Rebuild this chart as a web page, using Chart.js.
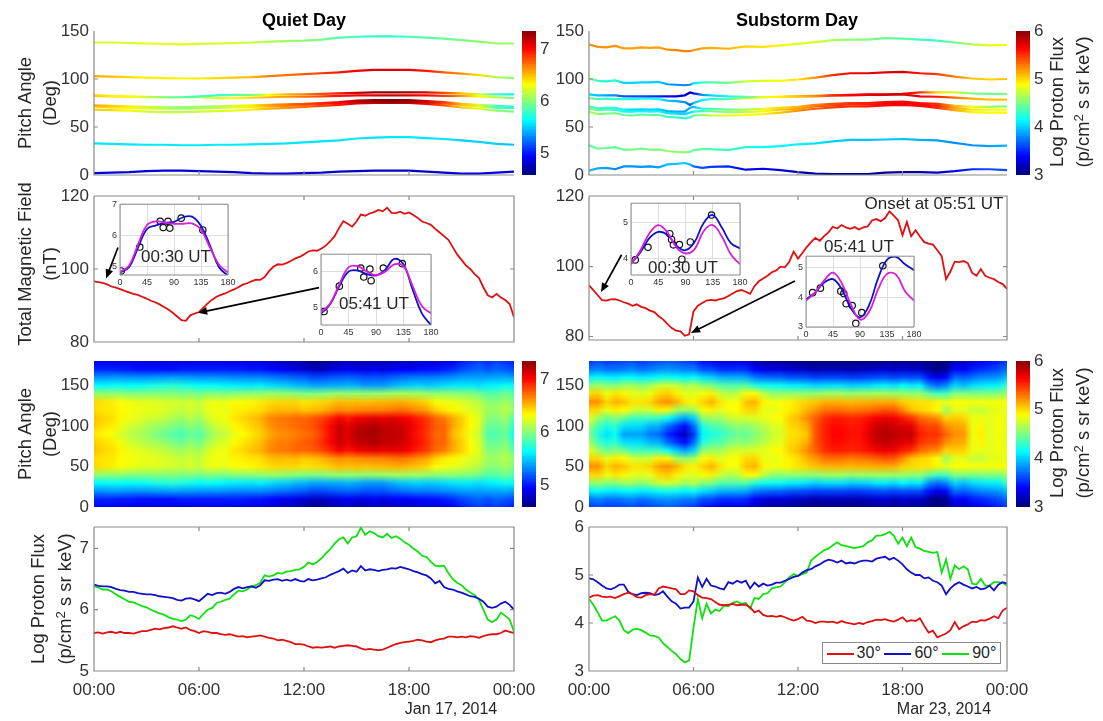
<!DOCTYPE html>
<html>
<head>
<meta charset="utf-8">
<script src="https://cdn.jsdelivr.net/npm/chart.js@4/dist/chart.umd.min.js"></script>
<style>
  html, body { margin: 0; padding: 0; background: #fff; }
  body { position: relative; width: 1103px; height: 721px; overflow: hidden; font-family: "Liberation Sans", Arial, sans-serif; color: #262626; }
  canvas { position: absolute; }
  .txt { position: absolute; white-space: nowrap; transform: translate(-50%, -50%); }
  .v { transform: translate(-50%, -50%) rotate(-90deg); }
  .txt sup { font-size: 0.72em; line-height: 0; vertical-align: baseline; position: relative; top: -0.42em; }
  #legend { position: absolute; left: 822px; top: 642px; width: 179px; height: 22px; box-sizing: border-box; border: 1px solid #8a8a8a; background: #fff; display: flex; align-items: center; justify-content: space-evenly; font-size: 16px; }
  #legend span.k { display: inline-block; width: 27px; height: 2px; margin-right: 3px; vertical-align: middle; }
</style>
</head>
<body>
<script>
// ДАНІ: підписи осей
const hourTicks = [0, 6, 12, 18, 24];
const hourLabels = ['00:00', '06:00', '12:00', '18:00', '00:00'];
const pitchTicks = [0, 50, 100, 150];
const fieldTicks = [80, 100, 120];
const quietFluxTicks = [5, 6, 7];
const stormFluxTicks = [3, 4, 5, 6];
const insetAngleTicks = [0, 45, 90, 135, 180];
const seriesNames = ['30°', '60°', '90°'];

// Верхня панель, Quiet Day: 9 ліній по годинах
const quietHours = [0,1,2,3,4,5,6,7,8,9,10,11,12,13,14,15,16,17,18,19,20,21,22,23,24];
const quietPitch = [
  [138,138,137.5,137,136.5,136,136.5,137,137.5,138,139,139.5,140,141,143,144,144.5,144.5,144,143,142,140.5,139,137,137],
  [103,102.5,102,101.5,101,100.5,100.5,101,101.5,102,103,104,105,106,107,108.5,109.5,109.5,109.5,108.5,107,105.5,104,102,101],
  [83,82.5,82,81.5,81,81,82,83,83.5,83.5,83.5,84,84,84.5,85,85.5,86,86,86,86,85.5,85,84,84,84],
  [82.5,82,81.5,81,81,81,81,80,80,80.5,81,81.5,81.5,82,82.5,83,83,83,83,83,82.5,82.5,82,81,80],
  [72.5,72,71.5,71,70.5,70.5,71,71.5,72,72.5,73,73.5,74,75,76,77.5,78,78,78,77,76,74,73,72,71],
  [71.5,70.5,70,69.5,69,69,69.5,70,70.5,71,71.5,72,73,74,75,76,76.5,76.5,76.5,75.5,74.5,73,71.5,70,70],
  [68,67.5,67,66,65.5,65.5,66,66.5,67,68,69,70,71,72,73,74.5,75,75,75,74,72.5,70.5,69,67,66],
  [33,32.5,32,31.5,31.5,31,31,31.5,31.5,32,32.5,33,34,35,36,38,39,39.5,39.5,38.5,37.5,36,34.5,32.5,31.5],
  [2,2.5,3,4,4.5,4.5,4,3.5,3,2,1.5,1.5,2,2.5,3.5,4,4.5,4.5,4.5,3.5,2.5,1.5,1.5,2.5,3.5]
];
const quietPitchFlux = [
  [6.2,6.2,6.2,6.25,6.25,6.25,6.2,6.2,6.2,6.15,6.1,6.05,6,5.95,5.85,5.8,5.75,5.75,5.8,5.85,5.9,5.95,6,6.05,6.05],
  [6.55,6.5,6.4,6.35,6.35,6.35,6.35,6.4,6.45,6.5,6.65,6.7,6.75,6.85,6.95,7.05,7.1,7.1,7.05,6.95,6.75,6.6,6.4,6.1,6],
  [6.45,6.35,6.3,6.15,5.95,5.85,5.8,5.75,5.85,5.95,6.3,6.5,6.65,6.8,6.95,7.15,7.3,7.3,7.25,7.1,6.8,6.5,6.2,5.8,5.65],
  [6.5,6.45,6.4,6.35,6.3,6.25,6.2,6.25,6.3,6.4,6.5,6.6,6.7,6.8,6.95,7.05,7.1,7.15,7.1,7,6.85,6.6,6.3,6.1,5.95],
  [6.55,6.45,6.35,6.2,6.1,6,6.05,6.1,6.2,6.35,6.55,6.7,6.8,6.9,7,7.2,7.3,7.35,7.3,7.15,6.85,6.5,6.2,5.8,5.7],
  [6.5,6.4,6.3,6.2,6.15,6.05,6.1,6.15,6.25,6.35,6.55,6.65,6.75,6.9,7,7.15,7.25,7.3,7.25,7.1,6.8,6.5,6.25,5.85,5.75],
  [6.45,6.4,6.3,6.2,6.15,6.15,6.15,6.2,6.25,6.35,6.5,6.6,6.7,6.8,6.95,7.1,7.15,7.2,7.15,7,6.75,6.45,6.25,6,5.95],
  [5.55,5.55,5.55,5.56,5.56,5.57,5.57,5.57,5.56,5.56,5.55,5.55,5.55,5.55,5.55,5.55,5.55,5.56,5.56,5.55,5.55,5.5,5.5,5.5,5.45],
  [4.85,4.85,4.85,4.82,4.82,4.8,4.8,4.82,4.82,4.85,4.85,4.85,4.82,4.8,4.78,4.78,4.78,4.78,4.78,4.8,4.82,4.85,4.88,4.88,4.85]
];

// Верхня панель, Substorm Day
const stormHours = [0,0.5,1,1.5,2,2.5,3,3.5,4,4.5,5,5.5,5.8,6,6.5,7,8,9,10,11,12,13,14,15,16,17,18,19,20,21,22,23,24];
const stormPitch = [
  [136,133.5,133,134.5,132,132,133,132.5,133,130.5,130,129,129,130,132,132.5,131.5,134,133.5,135,136.5,138.5,140.5,141,141,142.5,142,141,140,138,136,135,135.5],
  [100.5,98,97.5,98.5,96,96,96.5,96.5,97,94.5,94,93.5,94,95.5,96.5,96.5,96,97.5,98,98,99.5,101.5,104,106,106,107,107.5,106,105,102.5,100.5,99.5,100],
  [84,83,83,83,82,82,82,82,82,82,82,83,86,85,83.5,83,82,81.5,81,81.5,82,82,83,83.5,84,84,84.5,86,86,86,85,84.5,84.5],
  [80,79,79.5,79,79,79,79.5,79.5,79,77.5,77,76,73,75,78,79,79,80,81,81.5,82,82.5,83,83,83.5,83.5,84,82,81.5,80.5,79.5,78.5,78.5],
  [71.5,69.5,70,70,68,68,68.5,68,68.5,66.5,66,66,70,71,69,69,68,68,69,70,71,73,74,75,75,76,76.5,75,74,72,71,71,71.5],
  [69,67.5,68,68,66,66,66.5,66,66.5,64.5,64,63.5,65,66,66.5,66.5,65.5,65.5,66.5,68,69,71.5,72.5,73.5,73.5,74,75,73.5,72,70,68,68,68],
  [66,63.5,64,64.5,62.5,62,63,62.5,62.5,60.5,60,59,60,62,62.5,62,62,62.5,63.5,65,67,69,70.5,71.5,71.5,72.5,73,72,70,67.5,65.5,65,65],
  [31,27.5,28,29,26.5,26.5,27.5,26.5,26.5,25,24,23.5,24,26,27,27,26,29,29,30,32,33,35,36.5,36.5,37,37.5,36.5,36,33.5,31,30,30.5],
  [4.5,7,7.5,6,9,9,8.5,9,8,11,11.5,12.5,11,9,7.5,8.5,9,5.5,6.5,5,3,1.5,1,1,1,2.5,3,3,2.5,4,6,6,5]
];
const stormPitchFlux = [
  [5.2,5.2,5.2,5.2,5.15,5.15,5.15,5.15,5.15,5.2,5.25,5.25,5.25,5.2,5.15,5.1,5.1,5,4.95,4.9,4.8,4.75,4.65,4.55,4.5,4.45,4.4,4.3,4.3,4.45,4.65,4.8,4.85],
  [4.55,4.3,4.2,4.25,4,4,4,4,4,3.85,3.8,3.75,3.8,4.05,4.25,4.35,4.45,4.7,4.8,4.85,4.95,5.2,5.5,5.65,5.7,5.7,5.75,5.6,5.45,5.25,5.05,5,5.05],
  [4,3.95,3.85,3.75,3.65,3.6,3.6,3.55,3.5,3.4,3.3,3.25,3.15,3.3,3.8,4,4.15,4.4,4.8,4.9,5.05,5.2,5.5,5.65,5.7,5.75,5.75,5.5,5,4.75,4.5,4.45,4.5],
  [4.45,4.35,4.3,4.25,4.25,4.2,4.2,4.2,4.15,3.95,3.9,3.8,3.6,3.9,4.1,4.25,4.4,4.7,4.85,5,5.2,5.3,5.5,5.6,5.65,5.7,5.7,5.7,5.55,5.3,5.1,5.05,5.05],
  [4.35,4.3,4.25,4.2,4.1,4,4,4,4,3.9,3.9,3.85,3.9,3.95,4.15,4.3,4.45,4.6,4.8,5,5.1,5.25,5.4,5.5,5.55,5.6,5.65,5.6,5.5,5.1,4.85,4.6,4.5],
  [4.5,4.4,4.35,4.3,4.2,4.15,4.15,4.15,4.15,4.05,4.05,4,4.05,4.2,4.35,4.5,4.6,4.7,4.85,5.05,5.15,5.3,5.45,5.5,5.55,5.65,5.7,5.65,5.55,5.15,4.95,4.85,4.85],
  [4.65,4.55,4.5,4.5,4.4,4.4,4.4,4.4,4.4,4.3,4.3,4.2,4.25,4.4,4.55,4.7,4.8,4.85,4.9,5.05,5.2,5.35,5.45,5.5,5.55,5.6,5.65,5.6,5.5,5.15,4.9,4.9,4.9],
  [4.35,4.45,4.45,4.4,4.45,4.5,4.45,4.5,4.5,4.55,4.55,4.55,4.5,4.4,4.4,4.35,4.3,4.2,4.15,4.1,4.1,4.05,4,3.95,3.95,3.95,3.95,3.9,3.85,3.8,3.8,3.85,3.9],
  [3.95,3.85,3.85,3.75,3.8,3.8,3.8,3.8,3.85,3.95,3.95,4,3.9,3.7,3.6,3.55,3.5,3.35,3.3,3.3,3.15,3.1,3.05,3.05,3.05,3.05,3.1,3.15,3.25,3.35,3.5,3.6,3.6]
];

// Магнітне поле, кожні 15 хв
const quietField = [
  96.6,96.4,96.2,95.8, 95.2,94.9,94.5,94.0, 93.6,93.2,92.9,92.4, 91.9,91.3,90.9,90.3,
  89.6,88.9,88.0,87.0, 86.0,85.8,87.3,87.8, 88.2,89.4,90.6,91.6, 92.4,92.9,93.3,93.9,
  94.4,95.0,95.7,96.1, 96.6,97.1,97.0,97.8, 99.4,100.6,101.3,101.2, 101.6,102.2,102.9,103.3,
  104.0,104.8,105.1,105.0, 105.6,106.4,107.6,109.0, 111.2,113.1,112.4,111.6, 113.0,114.9,114.6,115.2,
  115.6,116.2,115.8,116.8, 115.4,115.3,115.7,115.1, 115.5,114.8,114.0,113.0, 112.6,112.1,111.0,110.0,
  109.0,108.0,106.0,104.0, 102.5,101.0,100.0,98.6, 97.5,95.0,92.8,92.2, 93.2,92.2,91.5,90.4, 86.8
];
const stormField = [
  94.6,93.3,91.8,90.4, 90.3,90.6,90.7,90.3, 89.8,89.4,88.8,89.2, 88.5,88.1,87.4,87.0,
  85.8,84.9,83.6,82.4, 81.7,81.5,80.2,80.6, 87.2,88.8,89.6,90.3, 90.5,90.3,90.7,90.9,
  91.6,92.3,93.0,93.3, 92.8,92.2,94.4,95.8, 96.6,97.4,98.4,98.9, 100.0,99.8,101.4,104.3,
  102.3,103.9,105.6,107.0, 108.2,107.4,108.7,109.8, 111.4,110.9,111.9,111.2, 110.8,111.3,110.6,111.2,
  111.5,113.2,113.6,113.0, 113.9,115.8,114.6,113.2, 109.0,112.8,108.7,110.4, 108.6,107.0,106.6,106.3,
  104.7,103.0,96.4,98.6, 101.4,101.3,101.6,101.0, 98.2,97.4,99.3,97.4, 96.8,96.4,95.6,95.0, 93.6
];

// Нижня панель, кожні 15 хв
const quietFlux30 = [
  5.62,5.63,5.61,5.63, 5.64,5.62,5.64,5.62, 5.62,5.61,5.63,5.65, 5.65,5.67,5.69,5.68,
  5.70,5.71,5.73,5.71, 5.69,5.71,5.67,5.65, 5.62,5.65,5.64,5.62, 5.62,5.60,5.59,5.60,
  5.58,5.56,5.57,5.55, 5.56,5.57,5.58,5.56, 5.54,5.53,5.50,5.51, 5.49,5.47,5.44,5.44,
  5.43,5.40,5.38,5.39, 5.38,5.39,5.40,5.38, 5.40,5.41,5.42,5.41, 5.40,5.37,5.35,5.36,
  5.35,5.34,5.35,5.38, 5.41,5.44,5.46,5.47, 5.48,5.49,5.51,5.50, 5.48,5.47,5.50,5.52,
  5.53,5.56,5.56,5.55, 5.56,5.55,5.57,5.56, 5.54,5.57,5.59,5.60, 5.60,5.62,5.66,5.64, 5.62
];
const quietFlux60 = [
  6.41,6.39,6.38,6.38, 6.37,6.34,6.32,6.31, 6.29,6.29,6.27,6.26, 6.25,6.25,6.24,6.22,
  6.21,6.20,6.19,6.16, 6.15,6.18,6.19,6.17, 6.14,6.20,6.26,6.24, 6.27,6.28,6.26,6.29,
  6.34,6.37,6.35,6.37, 6.38,6.36,6.40,6.48, 6.47,6.49,6.50,6.47, 6.49,6.47,6.50,6.47,
  6.46,6.50,6.48,6.49, 6.51,6.53,6.57,6.60, 6.63,6.67,6.60,6.64, 6.62,6.71,6.64,6.66,
  6.65,6.63,6.65,6.66, 6.68,6.67,6.70,6.68, 6.66,6.63,6.61,6.58, 6.56,6.51,6.43,6.47,
  6.37,6.34,6.33,6.30, 6.28,6.25,6.22,6.21, 6.18,6.13,6.05,6.03, 6.05,6.10,6.13,6.08, 6.00
];
const quietFlux90 = [
  6.38,6.36,6.33,6.33, 6.30,6.25,6.21,6.17, 6.13,6.12,6.09,6.06, 6.04,6.00,5.97,5.94,
  5.92,5.88,5.85,5.84, 5.81,5.84,5.91,5.89, 5.85,5.93,6.00,6.03, 6.11,6.13,6.16,6.18,
  6.25,6.31,6.30,6.33, 6.38,6.40,6.44,6.56, 6.54,6.56,6.60,6.59, 6.62,6.63,6.65,6.66,
  6.70,6.77,6.74,6.78, 6.84,6.92,6.99,7.08, 7.15,7.18,7.08,7.18, 7.20,7.34,7.22,7.28,
  7.25,7.20,7.18,7.24, 7.17,7.20,7.16,7.10, 7.06,7.00,6.95,6.88, 6.86,6.78,6.72,6.71,
  6.72,6.60,6.50,6.44, 6.40,6.33,6.28,6.24, 6.16,6.00,5.84,5.80, 5.84,5.95,5.90,5.84, 5.64
];
const stormFlux30 = [
  4.53,4.57,4.58,4.55, 4.54,4.55,4.52,4.56, 4.60,4.63,4.60,4.54, 4.53,4.58,4.60,4.59,
  4.72,4.76,4.74,4.72, 4.70,4.60,4.60,4.68, 4.66,4.58,4.53,4.52, 4.50,4.44,4.38,4.37,
  4.38,4.40,4.37,4.38, 4.38,4.33,4.22,4.26, 4.17,4.14,4.15,4.13, 4.15,4.12,4.08,4.05,
  4.08,4.13,4.05,4.04, 4.00,4.03,4.03,4.02, 4.03,4.00,4.04,4.01, 3.99,3.97,4.00,3.98,
  4.02,4.04,4.07,4.06, 4.08,4.05,4.03,4.07, 4.12,4.03,4.06,4.04, 4.10,3.94,3.80,3.84,
  3.70,3.74,3.78,3.85, 4.02,3.87,3.93,3.97, 4.03,4.02,4.06,4.05, 4.09,4.14,4.10,4.26, 4.32
];
const stormFlux60 = [
  4.93,4.91,4.85,4.78, 4.72,4.70,4.74,4.80, 4.80,4.65,4.60,4.58, 4.62,4.63,4.62,4.58,
  4.60,4.66,4.55,4.45, 4.40,4.30,4.32,4.32, 4.45,4.95,4.75,4.92, 4.78,4.76,4.72,4.70,
  4.85,4.82,4.88,4.84, 4.88,4.72,4.84,4.76, 4.82,4.78,4.80,4.84, 4.84,4.88,4.92,4.96,
  4.98,5.05,5.10,5.12, 5.18,5.22,5.28,5.32, 5.30,5.26,5.30,5.24, 5.26,5.24,5.28,5.30,
  5.30,5.28,5.34,5.36, 5.38,5.32,5.36,5.30, 5.22,5.12,5.05,5.00, 5.00,4.93,4.95,4.88,
  4.85,4.78,4.60,4.72, 4.80,4.85,4.80,4.76, 4.72,4.75,4.70,4.72, 4.78,4.68,4.80,4.85, 4.82
];
const stormFlux90 = [
  4.50,4.38,4.22,4.05, 4.05,4.10,4.14,4.05, 3.85,3.79,3.86,3.88, 3.85,3.80,3.74,3.73,
  3.70,3.58,3.50,3.42, 3.35,3.25,3.18,3.22, 3.90,4.50,4.10,4.40, 4.20,4.28,4.25,4.36,
  4.35,4.42,4.45,4.40, 4.42,4.30,4.52,4.50, 4.60,4.62,4.72,4.74, 4.76,4.85,4.95,5.02,
  4.98,5.02,5.05,5.30, 5.38,5.45,5.52,5.55, 5.62,5.68,5.62,5.60, 5.58,5.56,5.58,5.60,
  5.68,5.72,5.82,5.82, 5.85,5.90,5.82,5.65, 5.78,5.60,5.78,5.58, 5.55,5.50,5.48,5.46,
  5.48,5.05,5.32,4.92, 5.20,5.12,5.18,5.12, 4.82,4.80,4.92,4.78, 4.78,4.85,4.85,4.84, 4.78
];

// Карта: рядки кутів 0..90 кожні 10°, стовпці кожні 30 хв (вище 90° картинка дзеркальна)
const heatAngles = [0,10,20,30,40,50,60,70,80,90];
const quietHeat = [
  [4.9,4.9,4.9,4.88,4.88,4.85,4.85,4.85,4.85,4.85,4.87,4.87,4.88,4.88,4.88,4.88,4.87,4.87,4.85,4.85,4.82,4.78,4.75,4.72,4.68,4.62,4.62,4.68,4.72,4.75,4.72,4.72,4.75,4.72,4.75,4.78,4.78,4.8,4.82,4.82,4.85,4.9,5,5.05,5.1,5.05,5.1,5.05,5],
  [5.02,5.02,5.02,5,5,4.97,4.97,4.97,4.97,4.97,5,5,5,5,5,5,5,5,4.98,4.98,4.95,4.92,4.88,4.85,4.82,4.76,4.76,4.82,4.86,4.9,4.86,4.86,4.9,4.86,4.9,4.92,4.92,4.95,4.96,4.97,5,5.05,5.12,5.17,5.2,5.15,5.2,5.17,5.12],
  [5.33,5.33,5.35,5.35,5.33,5.33,5.33,5.35,5.35,5.37,5.35,5.35,5.33,5.33,5.33,5.32,5.3,5.3,5.3,5.3,5.28,5.25,5.23,5.2,5.18,5.13,5.13,5.16,5.18,5.2,5.18,5.15,5.16,5.15,5.2,5.23,5.25,5.27,5.27,5.28,5.3,5.33,5.36,5.37,5.36,5.38,5.38,5.4,5.36],
  [5.62,5.61,5.64,5.64,5.62,5.63,5.65,5.69,5.70,5.73,5.69,5.67,5.62,5.64,5.62,5.59,5.58,5.57,5.56,5.58,5.54,5.50,5.49,5.44,5.43,5.38,5.38,5.40,5.40,5.42,5.40,5.35,5.35,5.35,5.41,5.46,5.48,5.51,5.48,5.50,5.53,5.56,5.56,5.57,5.54,5.59,5.60,5.66,5.62],
  [6.02,6,6,6,5.97,5.97,5.97,5.98,5.97,5.98,5.95,5.97,5.93,5.97,5.97,5.95,5.98,5.98,6,6,6.02,6.02,6,5.98,5.95,5.95,5.97,6,6.02,6,6.02,6,6.02,6.02,6.05,6.07,6.05,6.05,6.02,6,6,6,5.98,5.97,5.92,5.85,5.85,5.92,5.85],
  [6.42,6.38,6.36,6.3,6.27,6.25,6.23,6.23,6.2,6.2,6.17,6.2,6.15,6.25,6.27,6.26,6.3,6.32,6.33,6.36,6.4,6.42,6.42,6.42,6.38,6.4,6.42,6.45,6.5,6.48,6.5,6.48,6.5,6.5,6.52,6.53,6.5,6.47,6.42,6.32,6.28,6.26,6.22,6.17,6.12,6,6,6.07,5.95],
  [6.41,6.38,6.37,6.32,6.29,6.27,6.25,6.24,6.21,6.19,6.15,6.19,6.14,6.26,6.27,6.26,6.34,6.35,6.38,6.40,6.47,6.50,6.49,6.50,6.46,6.48,6.51,6.57,6.63,6.60,6.62,6.64,6.65,6.65,6.68,6.70,6.66,6.61,6.56,6.43,6.37,6.33,6.28,6.22,6.18,6.05,6.05,6.13,6.00],
  [6.48,6.42,6.4,6.33,6.27,6.24,6.2,6.18,6.14,6.09,6.05,6.12,6.06,6.19,6.26,6.28,6.38,6.42,6.47,6.52,6.62,6.67,6.68,6.72,6.72,6.76,6.82,6.9,7.02,6.95,7.02,7.05,7.08,7.05,7.07,7.05,7,6.92,6.85,6.72,6.66,6.54,6.44,6.32,6.22,5.98,5.98,6.05,5.85],
  [6.45,6.39,6.36,6.28,6.2,6.15,6.1,6.06,6.02,5.96,5.92,6,5.94,6.08,6.18,6.22,6.32,6.37,6.43,6.49,6.6,6.66,6.67,6.71,6.75,6.79,6.88,7,7.15,7.06,7.17,7.18,7.22,7.16,7.16,7.14,7.07,6.97,6.88,6.75,6.73,6.55,6.44,6.3,6.2,5.9,5.9,5.97,5.73],
  [6.38,6.33,6.30,6.21,6.13,6.09,6.04,5.97,5.92,5.85,5.81,5.91,5.85,6.00,6.11,6.16,6.25,6.30,6.38,6.44,6.54,6.60,6.62,6.65,6.70,6.74,6.84,6.99,7.15,7.08,7.20,7.22,7.25,7.18,7.17,7.16,7.06,6.95,6.86,6.72,6.72,6.50,6.40,6.28,6.16,5.84,5.84,5.90,5.64]
];
const stormHeat = [
  [3.55,3.6,3.55,3.55,3.58,3.6,3.55,3.58,3.62,3.65,3.62,3.58,3.55,3.42,3.4,3.32,3.3,3.32,3.3,3.18,3.12,3.08,3.08,3.05,3.02,3,2.98,3,3,3,3,3,3.02,3.05,3.08,3.02,3.08,3.05,3.05,3,3,3,3.22,3.18,3.28,3.35,3.4,3.45,3.55],
  [3.72,3.78,3.72,3.72,3.75,3.78,3.72,3.75,3.8,3.82,3.8,3.75,3.75,3.62,3.6,3.52,3.5,3.52,3.5,3.38,3.3,3.28,3.28,3.24,3.22,3.2,3.15,3.18,3.18,3.18,3.16,3.18,3.2,3.22,3.25,3.2,3.25,3.22,3.22,3.1,3.02,3.08,3.4,3.35,3.45,3.5,3.55,3.6,3.7],
  [4.1,4.15,4.1,4.08,4.12,4.12,4.08,4.1,4.15,4.18,4.15,4.1,4.15,4.05,4,3.92,3.9,3.9,3.88,3.75,3.7,3.68,3.68,3.62,3.62,3.6,3.56,3.58,3.58,3.58,3.56,3.56,3.58,3.6,3.62,3.58,3.62,3.6,3.6,3.42,3.32,3.4,3.7,3.65,3.72,3.78,3.8,3.82,3.95],
  [4.53,4.58,4.54,4.52,4.60,4.60,4.53,4.60,4.72,4.74,4.70,4.60,4.66,4.53,4.50,4.38,4.38,4.37,4.38,4.22,4.17,4.15,4.15,4.08,4.08,4.05,4.00,4.03,4.03,4.04,3.99,4.00,4.02,4.07,4.08,4.03,4.12,4.06,4.10,3.80,3.70,3.78,4.02,3.93,4.03,4.06,4.09,4.10,4.32],
  [4.98,5,4.82,4.95,4.9,4.8,4.78,4.82,4.98,5.02,4.92,4.8,4.78,4.85,4.92,4.72,4.65,4.68,4.85,4.88,4.68,4.55,4.55,4.55,4.55,4.55,4.55,4.58,4.6,4.6,4.55,4.58,4.58,4.6,4.6,4.58,4.58,4.55,4.55,4.4,4.3,4.32,4.5,4.5,4.48,4.5,4.5,4.5,4.6],
  [5.2,5.2,5,5.1,5.05,4.95,4.95,5,5.15,5.2,5.1,4.95,4.9,5,5.1,4.95,4.85,4.85,5.05,5.1,4.9,4.85,4.85,4.9,4.95,5,5.05,5.1,5.1,5.1,5.08,5.1,5.1,5.12,5.12,5.12,5.02,4.98,4.95,4.95,4.9,4.8,4.88,4.88,4.85,4.85,4.85,4.85,4.88],
  [5,4.98,4.8,4.92,4.88,4.75,4.72,4.75,4.92,4.9,4.62,4.55,4.6,4.85,4.92,4.78,4.85,4.88,4.98,5,4.82,4.80,4.84,4.92,4.98,5.10,5.18,5.28,5.30,5.30,5.26,5.28,5.30,5.34,5.38,5.36,5.22,5.05,5.00,4.95,4.85,4.60,4.80,4.80,4.72,4.70,4.78,4.80,4.82],
  [4.8,4.6,4.45,4.52,4.45,4.32,4.32,4.3,4.3,4.15,3.98,3.85,4,4.55,4.6,4.6,4.7,4.75,4.75,4.78,4.8,4.85,4.88,5,5.08,5.22,5.35,5.48,5.55,5.55,5.52,5.53,5.58,5.65,5.68,5.66,5.55,5.48,5.32,5.25,5.2,5,5.02,5,4.82,4.82,4.8,4.85,4.82],
  [4.6,4.35,4.2,4.27,4.05,4.03,4.02,3.92,3.9,3.7,3.55,3.4,3.7,4.2,4.35,4.38,4.48,4.55,4.53,4.6,4.67,4.77,4.8,4.98,5.02,5.12,5.38,5.52,5.6,5.6,5.56,5.57,5.65,5.77,5.8,5.77,5.72,5.7,5.48,5.42,5.4,5.2,5.14,5.12,4.82,4.9,4.78,4.85,4.8],
  [4.50,4.22,4.05,4.14,3.85,3.86,3.85,3.74,3.70,3.50,3.35,3.18,3.55,4.10,4.20,4.25,4.35,4.45,4.42,4.52,4.60,4.72,4.76,4.95,4.98,5.05,5.38,5.52,5.62,5.62,5.58,5.58,5.68,5.82,5.85,5.82,5.78,5.78,5.55,5.48,5.48,5.32,5.20,5.18,4.82,4.92,4.78,4.85,4.78]
];

// Вставки: кути кожні 15°
const insetAngles = [0,15,30,45,60,75,90,105,120,135,150,165,180];
const insetABlue = [4.8,4.97,5.6,6.2,6.32,6.4,6.43,6.58,6.6,6.3,5.67,4.97,4.7];
const insetAMagenta = [4.82,5.02,5.7,6.33,6.45,6.4,6.37,6.37,6.38,6.18,5.6,5.05,4.8];
const insetAObsX = [2,33,67,72,80,83,102,138];
const insetAObsY = [4.85,5.62,6.45,6.25,6.45,6.23,6.55,6.17];
const insetBBlue = [4.85,5.1,5.6,6.0,6.03,5.93,5.9,6.05,6.35,6.2,5.5,4.85,4.53];
const insetBMagenta = [4.88,5.12,5.65,6.12,6.15,6.0,5.9,6.0,6.2,6.15,5.6,5.05,4.85];
const insetBObsX = [5,30,65,70,80,82,102,133];
const insetBObsY = [4.9,5.6,6.1,5.85,6.07,5.75,6.1,6.22];
const insetCBlue = [3.85,4.15,4.55,4.73,4.65,4.35,4.22,4.45,4.98,5.2,4.85,4.42,4.27];
const insetCMagenta = [3.83,4.2,4.68,4.92,4.72,4.3,4.13,4.25,4.75,4.92,4.6,4.1,3.83];
const insetCObsX = [7,28,64,67,70,80,84,98,133];
const insetCObsY = [3.95,4.3,4.68,4.52,4.37,4.38,3.97,4.45,5.2];
const insetDBlue = [3.92,4.15,4.48,4.6,4.25,3.62,3.32,3.72,4.62,5.25,5.35,5.1,4.9];
const insetDMagenta = [3.88,4.15,4.55,4.82,4.45,3.75,3.25,3.5,4.25,4.78,4.75,4.2,3.88];
const insetDObsX = [11,24,58,63,67,77,83,93,128];
const insetDObsY = [4.15,4.3,4.2,4.12,3.78,3.72,3.12,3.48,5.05];

// КОЛЬОРИ
const RED = '#e01010', BLUE = '#1010c8', GREEN = '#10e010', MAGENTA = '#d81fd8';
const AXIS = '#8a8a8a', TICK = '#333';
const FONT = '"Liberation Sans", Arial, sans-serif';

function jet(t) {
  t = Math.min(1, Math.max(0, t));
  const c = k => Math.round(255 * Math.min(1, Math.max(0, 1.5 - Math.abs(4 * t - k))));
  return [c(3), c(2), c(1)];
}
const jetCss = t => `rgb(${jet(t).join(',')})`;
const xy = (xs, ys) => xs.map((x, i) => ({x, y: ys[i]}));
const hours15 = quietField.map((_, i) => i * 0.25);
const hours30 = quietHeat[0].map((_, i) => i * 0.5);

function addCanvas(l, t, w, h) {
  const c = document.createElement('canvas');
  c.width = w; c.height = h;
  c.style.left = l + 'px'; c.style.top = t + 'px';
  document.body.appendChild(c);
  return c;
}
function addText(html, x, y, size, extra) {
  const d = document.createElement('div');
  d.className = 'txt' + (extra && extra.v ? ' v' : '');
  d.innerHTML = html;
  d.style.left = x + 'px'; d.style.top = y + 'px'; d.style.fontSize = size + 'px';
  if (extra && extra.bold) { d.style.fontWeight = 'bold'; d.style.color = '#000'; }
  document.body.appendChild(d);
}

// Рамка і короткі внутрішні позначки (як у MATLAB)
const framePlugin = {
  id: 'frame',
  afterDatasetsDraw(chart, args, opts) {
    if (!opts.on) return;
    const {ctx, chartArea: a, scales} = chart;
    ctx.save();
    ctx.strokeStyle = AXIS; ctx.lineWidth = opts.width || 1.2;
    ctx.beginPath();
    ctx.moveTo(a.left, a.top); ctx.lineTo(a.left, a.bottom); ctx.lineTo(a.right, a.bottom);
    if (opts.box) { ctx.lineTo(a.right, a.top); ctx.lineTo(a.left, a.top); }
    const len = opts.len === undefined ? 4 : opts.len;
    scales.x.ticks.forEach(t => {
      const p = scales.x.getPixelForValue(t.value);
      if (p <= a.left + 1 || p >= a.right - 1) return;
      ctx.moveTo(p, a.bottom); ctx.lineTo(p, a.bottom - len);
      if (opts.box) { ctx.moveTo(p, a.top); ctx.lineTo(p, a.top + len); }
    });
    scales.y.ticks.forEach(t => {
      const p = scales.y.getPixelForValue(t.value);
      if (p <= a.top + 1 || p >= a.bottom - 1) return;
      ctx.moveTo(a.left, p); ctx.lineTo(a.left + len, p);
      if (opts.box) { ctx.moveTo(a.right, p); ctx.lineTo(a.right - len, p); }
    });
    ctx.stroke();
    ctx.restore();
  }
};

// Стрілки на панелі поля, кінці в координатах даних
const arrowPlugin = {
  id: 'arrows',
  afterDatasetsDraw(chart, args, opts) {
    const {ctx, scales: {x, y}} = chart;
    (opts.list || []).forEach(r => {
      const x0 = x.getPixelForValue(r[0]), y0 = y.getPixelForValue(r[1]);
      const x1 = x.getPixelForValue(r[2]), y1 = y.getPixelForValue(r[3]);
      const ang = Math.atan2(y1 - y0, x1 - x0);
      ctx.save();
      ctx.strokeStyle = '#000'; ctx.fillStyle = '#000'; ctx.lineWidth = 1.7;
      ctx.beginPath(); ctx.moveTo(x0, y0); ctx.lineTo(x1 - 6 * Math.cos(ang), y1 - 6 * Math.sin(ang)); ctx.stroke();
      ctx.beginPath(); ctx.moveTo(x1, y1);
      ctx.lineTo(x1 - 10 * Math.cos(ang - 0.4), y1 - 10 * Math.sin(ang - 0.4));
      ctx.lineTo(x1 - 10 * Math.cos(ang + 0.4), y1 - 10 * Math.sin(ang + 0.4));
      ctx.closePath(); ctx.fill();
      ctx.restore();
    });
  }
};

// Плавна заливка карти: сітка малюється через шкали, як shading interp
const heatPlugin = {
  id: 'heat',
  beforeDatasetsDraw(chart, args, opts) {
    const {ctx, chartArea: a, scales: {x, y}} = chart;
    const rows = opts.rows, nr = rows.length, nc = rows[0].length;
    const off = document.createElement('canvas');
    off.width = nc; off.height = nr;
    const oc = off.getContext('2d');
    const img = oc.createImageData(nc, nr);
    rows.forEach((row, r) => row.forEach((v, c) => {
      const rgb = jet((v - opts.min) / (opts.max - opts.min));
      const k = ((nr - 1 - r) * nc + c) * 4;
      img.data[k] = rgb[0]; img.data[k + 1] = rgb[1]; img.data[k + 2] = rgb[2]; img.data[k + 3] = 255;
    }));
    oc.putImageData(img, 0, 0);
    const dx = opts.dx / 2, dy = opts.dy / 2;
    const l = x.getPixelForValue(0 - dx), r = x.getPixelForValue(24 + dx);
    const t = y.getPixelForValue(180 + dy), b = y.getPixelForValue(0 - dy);
    ctx.save();
    ctx.beginPath(); ctx.rect(a.left, a.top, a.right - a.left, a.bottom - a.top); ctx.clip();
    ctx.imageSmoothingEnabled = true;
    ctx.drawImage(off, l, t, r - l, b - t);
    ctx.restore();
  }
};

const insetBgPlugin = {
  id: 'insetBg',
  beforeDraw(chart) {
    const {ctx, chartArea: a} = chart;
    ctx.save(); ctx.fillStyle = '#fff';
    ctx.fillRect(a.left, a.top, a.right - a.left, a.bottom - a.top);
    ctx.restore();
  }
};

// Спільні осі: ширина полів задається явно, щоб область графіка стояла точно
function fixedScale(gutter, vals, o) {
  return Object.assign({
    type: 'linear',
    afterBuildTicks(s) { s.ticks = vals.map(v => ({value: v})); },
    afterFit(s) {
      if (s.isHorizontal()) { s.height = gutter; s.paddingLeft = 0; s.paddingRight = 0; }
      else { s.width = gutter; s.paddingTop = 0; s.paddingBottom = 0; }
    },
    grid: {display: false, drawTicks: false},
    border: {display: false}
  }, o);
}

function panel(p) {
  const gl = p.gl, gt = 11, gb = 40, gr = 26;
  const c = addCanvas(p.x0 - gl, p.y0 - gt, p.x1 - p.x0 + gl + gr, p.y1 - p.y0 + gt + gb);
  return new Chart(c, {
    type: 'line',
    data: {datasets: p.datasets},
    plugins: p.plugins || [framePlugin, arrowPlugin],
    options: {
      responsive: false, animation: false, events: [],
      layout: {padding: {top: gt, right: gr, left: 0, bottom: 0}},
      elements: {point: {radius: 0}, line: {tension: 0}},
      scales: {
        x: fixedScale(gb, hourTicks, {
          min: 0, max: 24,
          ticks: {display: !!p.xLabels, autoSkip: false, maxRotation: 0, padding: 9, color: TICK, font: {family: FONT, size: 17},
            callback: (v, i) => hourLabels[i]}
        }),
        y: fixedScale(gl, p.yTicks, {
          min: p.ymin, max: p.ymax,
          ticks: {padding: 5, color: TICK, font: {family: FONT, size: 17}}
        })
      },
      plugins: {
        legend: {display: false}, tooltip: {enabled: false},
        frame: {on: p.frame !== false, box: !!p.box},
        arrows: {list: p.arrows || []},
        heat: p.heat || {}
      }
    }
  });
}

// Колір лінії міняється вздовж часу: горизонтальний градієнт зі значень потоку
function pitchLines(xs, angles, fluxes, min, max) {
  return angles.map((ys, i) => ({
    data: xy(xs, ys),
    borderWidth: 2.2,
    borderColor(ctx) {
      const a = ctx.chart.chartArea;
      if (!a) return jetCss((fluxes[i][0] - min) / (max - min));
      const g = ctx.chart.ctx.createLinearGradient(a.left, 0, a.right, 0);
      xs.forEach((h, k) => g.addColorStop(h / 24, jetCss((fluxes[i][k] - min) / (max - min))));
      return g;
    }
  }));
}

function colorbar(x0, y0, y1, min, max, ticks) {
  const levels = Array.from({length: 64}, (_, i) => min + (max - min) * i / 64);
  const w = 14, gut = 30, pad = 10;
  const c = addCanvas(x0, y0 - pad, w + gut, y1 - y0 + 2 * pad);
  return new Chart(c, {
    type: 'bar',
    data: {
      labels: ['flux'],
      datasets: levels.map((l, i) => ({
        data: [[l, i === 63 ? max : l + (max - min) / 64 * 1.2]],
        backgroundColor: jetCss((i + 0.5) / 64),
        barPercentage: 1, categoryPercentage: 1, grouped: false
      }))
    },
    options: {
      responsive: false, animation: false, events: [],
      layout: {padding: {top: pad, bottom: pad}},
      scales: {
        x: {display: false},
        y: fixedScale(gut, ticks, {
          position: 'right', min, max,
          ticks: {padding: 4, color: TICK, font: {family: FONT, size: 17}}
        })
      },
      plugins: {legend: {display: false}, tooltip: {enabled: false}}
    }
  });
}

function inset(p) {
  const gl = 13, gt = 5, gb = 14, gr = 10;
  const c = addCanvas(p.x0 - gl, p.y0 - gt, p.x1 - p.x0 + gl + gr, p.y1 - p.y0 + gt + gb);
  const tickFont = {family: FONT, size: 9};
  return new Chart(c, {
    type: 'line',
    data: {datasets: [
      {data: xy(insetAngles, p.magenta), borderColor: MAGENTA, borderWidth: 1.8, tension: 0.4},
      {data: xy(insetAngles, p.blue), borderColor: BLUE, borderWidth: 1.8, tension: 0.4},
      {data: xy(p.obsX, p.obsY), showLine: false, pointRadius: 3.2, pointBorderWidth: 1.2, pointBorderColor: '#111', pointBackgroundColor: 'rgba(0,0,0,0)'}
    ]},
    plugins: [insetBgPlugin, framePlugin],
    options: {
      responsive: false, animation: false, events: [],
      layout: {padding: {top: gt, right: gr, left: 0, bottom: 0}},
      elements: {point: {radius: 0}},
      scales: {
        x: Object.assign(fixedScale(gb, insetAngleTicks, {min: 0, max: 180,
          ticks: {padding: 2, autoSkip: false, maxRotation: 0, color: TICK, font: tickFont}}), {grid: {display: true, drawTicks: false, color: '#dedede'}}),
        y: Object.assign(fixedScale(gl, p.yTicks, {min: p.ymin, max: p.ymax,
          ticks: {padding: 3, color: TICK, font: tickFont}}), {grid: {display: true, drawTicks: false, color: '#dedede'}})
      },
      plugins: {legend: {display: false}, tooltip: {enabled: false}, frame: {on: true, box: true, len: 0, width: 1}}
    }
  });
}

// ПАНЕЛІ
const L = {x0: 94, x1: 514}, R = {x0: 589, x1: 1007};
const quietMin = 4.58, quietMax = 7.35, stormMin = 3, stormMax = 6;

panel({...L, gl: 94, y0: 31, y1: 175, ymin: 0, ymax: 150, yTicks: pitchTicks,
  datasets: pitchLines(quietHours, quietPitch, quietPitchFlux, quietMin, quietMax)});
panel({...R, gl: 49, y0: 31, y1: 175, ymin: 0, ymax: 150, yTicks: pitchTicks,
  datasets: pitchLines(stormHours, stormPitch, stormPitchFlux, stormMin, stormMax)});

panel({...L, gl: 94, y0: 196, y1: 342, ymin: 80, ymax: 120, yTicks: fieldTicks, box: true,
  datasets: [{data: xy(hours15, quietField), borderColor: RED, borderWidth: 1.8}],
  arrows: [[1.37, 105.9, 0.69, 97.4], [12.86, 94.9, 5.94, 88]]});
panel({...R, gl: 49, y0: 196, y1: 340, ymin: 79, ymax: 120.2, yTicks: fieldTicks, box: true,
  datasets: [{data: xy(hours15, stormField), borderColor: RED, borderWidth: 1.8}],
  arrows: [[1.87, 103.4, 0.69, 92.7], [11.82, 95.9, 5.85, 81]]});

const mirror = rows => rows.concat(rows.slice(0, -1).reverse());
const heatCells = rows => rows.flatMap((row, r) => row.map((v, c) => ({x: hours30[c], y: r * 10})));
[[L, 94, quietHeat, quietMin, quietMax], [R, 49, stormHeat, stormMin, stormMax]].forEach(([side, gl, rows, min, max]) => {
  const full = mirror(rows);
  panel({...side, gl, y0: 361, y1: 507, ymin: 0, ymax: 180, yTicks: pitchTicks, frame: false,
    plugins: [heatPlugin],
    heat: {rows: full, min, max, dx: 0.5, dy: heatAngles[1] - heatAngles[0]},
    datasets: [{type: 'scatter', data: heatCells(full), pointRadius: 0, showLine: false}]});
});

panel({...L, gl: 94, y0: 527, y1: 671, ymin: 5, ymax: 7.35, yTicks: quietFluxTicks, box: true, xLabels: true,
  datasets: [
    {label: seriesNames[0], data: xy(hours15, quietFlux30), borderColor: RED, borderWidth: 1.8},
    {label: seriesNames[1], data: xy(hours15, quietFlux60), borderColor: BLUE, borderWidth: 1.8},
    {label: seriesNames[2], data: xy(hours15, quietFlux90), borderColor: GREEN, borderWidth: 1.8}
  ]});
panel({...R, gl: 49, y0: 527, y1: 671, ymin: 3, ymax: 6, yTicks: stormFluxTicks, box: true, xLabels: true,
  datasets: [
    {label: seriesNames[0], data: xy(hours15, stormFlux30), borderColor: RED, borderWidth: 1.8},
    {label: seriesNames[1], data: xy(hours15, stormFlux60), borderColor: BLUE, borderWidth: 1.8},
    {label: seriesNames[2], data: xy(hours15, stormFlux90), borderColor: GREEN, borderWidth: 1.8}
  ]});

colorbar(522, 31, 175, quietMin, quietMax, quietFluxTicks);
colorbar(1016, 31, 175, stormMin, stormMax, stormFluxTicks);
colorbar(522, 361, 507, quietMin, quietMax, quietFluxTicks);
colorbar(1016, 361, 507, stormMin, stormMax, stormFluxTicks);

inset({x0: 120, x1: 228, y0: 204, y1: 275, ymin: 4.72, ymax: 7, yTicks: [5, 6, 7],
  blue: insetABlue, magenta: insetAMagenta, obsX: insetAObsX, obsY: insetAObsY});
inset({x0: 321, x1: 431, y0: 254, y1: 325, ymin: 4.53, ymax: 6.48, yTicks: [5, 6],
  blue: insetBBlue, magenta: insetBMagenta, obsX: insetBObsX, obsY: insetBObsY});
inset({x0: 631, x1: 740, y0: 203, y1: 275, ymin: 3.53, ymax: 5.53, yTicks: [4, 5],
  blue: insetCBlue, magenta: insetCMagenta, obsX: insetCObsX, obsY: insetCObsY});
inset({x0: 806, x1: 914, y0: 256, y1: 327, ymin: 3, ymax: 5.37, yTicks: [3, 4, 5],
  blue: insetDBlue, magenta: insetDMagenta, obsX: insetDObsX, obsY: insetDObsY});

// ТЕКСТ
addText('Quiet Day', 304, 20, 18, {bold: true});
addText('Substorm Day', 797, 20, 18, {bold: true});
const fluxUnit = '(p/cm<sup>2</sup> s sr keV)';
[[103, 'Pitch Angle', '(Deg)'], [264, 'Total Magnetic Field', '(nT)'], [434, 'Pitch Angle', '(Deg)']].forEach(r => {
  addText(r[1], 25, r[0], 18.4, {v: true});
  addText(r[2], 50, r[0], 18.4, {v: true});
});
addText('Log Proton Flux', 38, 599, 18.4, {v: true});
addText(fluxUnit, 65, 599, 18.4, {v: true});
[102, 433].forEach(y => {
  addText('Log Proton Flux', 1057, y, 18.4, {v: true});
  addText(fluxUnit, 1083, y, 18.4, {v: true});
});
addText('00:30 UT', 176, 257, 17);
addText('05:41 UT', 374, 304, 17);
addText('00:30 UT', 683, 268, 17);
addText('05:41 UT', 859, 247, 17);
addText('Onset at 05:51 UT', 934, 204, 17);
addText('Jan 17, 2014', 451, 709, 16);
addText('Mar 23, 2014', 944, 709, 16);

const legend = document.createElement('div');
legend.id = 'legend';
[RED, BLUE, GREEN].forEach((col, i) => {
  const item = document.createElement('div');
  item.innerHTML = `<span class="k" style="background:${col}"></span>${seriesNames[i]}`;
  legend.appendChild(item);
});
document.body.appendChild(legend);
</script>
</body>
</html>
